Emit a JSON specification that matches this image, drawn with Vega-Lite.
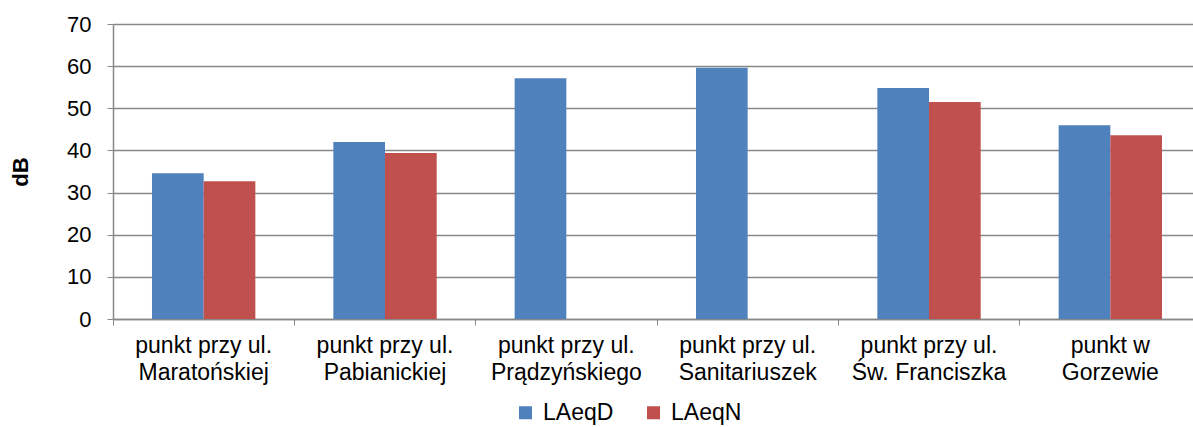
{
  "$schema": "https://vega.github.io/schema/vega-lite/v6.json",
  "width": 1088,
  "height": 295,
  "autosize": {"type": "none"},
  "padding": {"left": 113, "top": 24, "right": 0, "bottom": 108},
  "background": "white",
  "config": {
    "view": {"stroke": null},
    "font": "Liberation Sans",
    "axis": {"labelFont": "Liberation Sans", "titleFont": "Liberation Sans", "labelColor": "#000", "titleColor": "#000"}
  },
  "data": {
    "values": [
      {"punkt": "punkt przy ul.|Maratońskiej", "seria": "LAeqD", "dB": 34.6},
      {"punkt": "punkt przy ul.|Maratońskiej", "seria": "LAeqN", "dB": 32.7},
      {"punkt": "punkt przy ul.|Pabianickiej", "seria": "LAeqD", "dB": 42.0},
      {"punkt": "punkt przy ul.|Pabianickiej", "seria": "LAeqN", "dB": 39.4},
      {"punkt": "punkt przy ul.|Prądzyńskiego", "seria": "LAeqD", "dB": 57.1},
      {"punkt": "punkt przy ul.|Sanitariuszek", "seria": "LAeqD", "dB": 59.6},
      {"punkt": "punkt przy ul.|Św. Franciszka", "seria": "LAeqD", "dB": 54.8},
      {"punkt": "punkt przy ul.|Św. Franciszka", "seria": "LAeqN", "dB": 51.5},
      {"punkt": "punkt w|Gorzewie", "seria": "LAeqD", "dB": 46.0},
      {"punkt": "punkt w|Gorzewie", "seria": "LAeqN", "dB": 43.6}
    ]
  },
  "mark": {"type": "bar"},
  "encoding": {
    "x": {
      "field": "punkt",
      "type": "nominal",
      "sort": null,
      "scale": {"paddingInner": 0.43, "paddingOuter": 0.215},
      "axis": {
        "title": null,
        "labelAngle": 0,
        "labelExpr": "split(datum.label, '|')",
        "labelFontSize": 23,
        "labelLineHeight": 27,
        "labelPadding": 9,
        "bandPosition": -0.377,
        "tickSize": 6,
        "tickColor": "#888888",
        "domainColor": "#888888",
        "domainWidth": 1.5,
        "grid": false,
        "labelLimit": 300
      }
    },
    "xOffset": {"field": "seria", "type": "nominal", "sort": ["LAeqD", "LAeqN"], "scale": {"domain": ["LAeqD", "LAeqN"], "paddingInner": 0, "paddingOuter": 0}},
    "y": {
      "field": "dB",
      "type": "quantitative",
      "scale": {"domain": [0, 70], "nice": false},
      "axis": {
        "title": "dB",
        "titleFontSize": 22,
        "titleFontWeight": "bold",
        "titlePadding": 34,
        "values": [0, 10, 20, 30, 40, 50, 60, 70],
        "labelFontSize": 22,
        "labelPadding": 16,
        "tickSize": 6,
        "tickColor": "#888888",
        "domainColor": "#888888",
        "domainWidth": 1.5,
        "gridColor": "#888888",
        "gridWidth": 1.5
      }
    },
    "color": {
      "field": "seria",
      "type": "nominal",
      "scale": {"domain": ["LAeqD", "LAeqN"], "range": ["#4F81BD", "#C0504D"]},
      "legend": {
        "title": null,
        "orient": "none",
        "direction": "horizontal",
        "legendX": 401,
        "legendY": 377,
        "symbolType": "square",
        "symbolSize": 169,
        "symbolStrokeWidth": 0,
        "labelFontSize": 23,
        "labelOffset": 6,
        "columnPadding": 28,
        "padding": 0
      }
    }
  }
}
